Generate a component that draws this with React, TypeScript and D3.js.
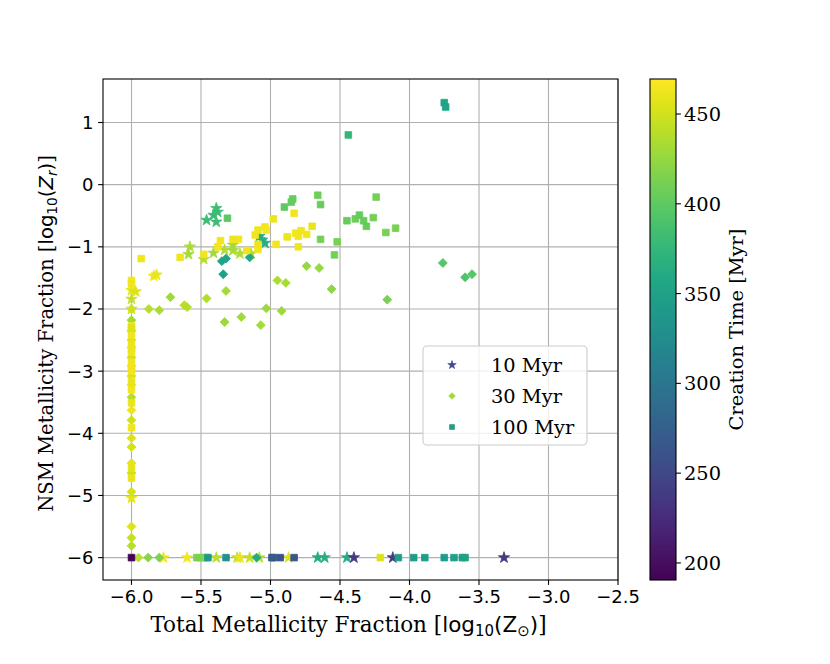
import * as d3 from 'd3';

// Stars: 10 Myr
const starX = [-5.46, -5.39, -5.41, -5.39, -5.38, -5.08, -5.06, -5.04, -5.58, -5.59, -5.48, -5.41, -5.33, -5.27, -5.27, -5.22, -5.14,
  -5.84, -5.82, -6.0, -5.97, -6.0, -6.0, -6.0,
  -5.77, -5.6, -5.39, -5.24, -5.22, -5.15, -5.08, -4.87, -4.66, -4.61, -4.45, -4.4, -4.12, -3.32];
const starY = [-0.57, -0.38, -0.49, -0.6, -0.44, -0.83, -0.89, -0.94, -1.0, -1.12, -1.2, -1.1, -1.05, -0.97, -1.06, -1.11, -1.11,
  -1.47, -1.45, -1.7, -1.72, -1.84, -2.0, -5.04,
  -6, -6, -6, -6, -6, -6, -6, -6, -6, -6, -6, -6, -6, -6];
const starT = [382, 385, 380, 383, 381, 365, 362, 366, 435, 432, 438, 430, 436, 434, 432, 437, 433,
  462, 460, 458, 455, 445, 450, 458,
  465, 465, 440, 445, 460, 445, 440, 455, 362, 365, 362, 238, 240, 238];

// Diamonds: 30 Myr
const diamondX = [-5.35, -5.32, -5.34, -5.15,
  -5.875, -5.8, -5.72, -5.62, -5.6, -5.46, -5.32, -5.33, -5.21, -5.07, -5.03, -4.92, -4.95, -4.89, -4.74, -4.65, -4.56, -4.16, -3.76, -3.6, -3.55,
  -6.0, -6.0, -6.0, -6.0, -6.0, -6.0, -6.0, -6.0, -6.0, -6.0, -6.0, -6.0, -6.0, -6.0, -6.0, -6.0, -6.0, -6.0, -6.0, -6.0,
  -5.95, -5.88, -5.8, -5.1];
const diamondY = [-1.23, -1.19, -1.44, -1.17,
  -2.0, -2.02, -1.81, -1.94, -1.97, -1.83, -1.71, -2.21, -2.13, -2.26, -1.99, -2.03, -1.54, -1.58, -1.31, -1.34, -1.68, -1.85, -1.26, -1.49, -1.44,
  -2.0, -2.18, -2.35, -2.5, -2.62, -2.78, -2.92, -3.08, -3.22, -3.42, -3.63, -3.79, -4.08, -4.22, -4.48, -4.64, -4.94, -5.5, -5.68, -5.81,
  -6, -6, -6, -6];
const diamondT = [352, 356, 350, 358,
  440, 435, 430, 440, 438, 436, 432, 428, 430, 432, 428, 428, 435, 432, 425, 425, 422, 412, 395, 392, 396,
  448, 430, 440, 455, 460, 445, 462, 450, 458, 440, 462, 448, 455, 450, 458, 448, 452, 455, 445, 440,
  440, 420, 415, 360];

// Squares: 100 Myr
const squareX = [-4.98, -4.83, -5.04, -5.03, -5.09, -5.11, -4.88, -4.82, -4.78, -4.74, -4.7, -4.8, -4.8, -4.96, -5.09, -5.09, -5.17, -5.23, -5.27, -5.36, -5.38, -5.48, -5.65, -5.93,
  -4.84, -4.85, -4.9, -4.66, -4.64, -4.64, -4.52, -4.54, -4.24, -4.45, -4.39, -4.36, -4.33, -4.31, -4.26, -4.17, -4.1, -5.31,
  -4.44, -3.75, -3.74,
  -6.0, -6.0, -6.0, -6.0, -6.0, -6.0, -6.0, -6.0, -6.0, -6.0, -6.0, -6.0, -6.0, -6.0, -6.0, -6.0, -6.0,
  -6.0, -5.53, -5.51, -5.48, -5.46, -5.45, -5.32, -4.99, -4.98, -4.93, -4.83, -4.21, -4.08, -3.97, -3.89, -3.75, -3.68, -3.62, -3.6];
const squareY = [-0.55, -0.46, -0.68, -0.73, -0.73, -0.81, -0.84, -0.78, -0.74, -0.8, -0.67, -0.83, -1.0, -0.96, -0.96, -1.04, -1.06, -0.88, -0.88, -0.9, -1.0, -1.12, -1.17, -1.19,
  -0.23, -0.28, -0.36, -0.17, -0.32, -0.88, -0.92, -1.13, -0.2, -0.58, -0.55, -0.49, -0.58, -0.67, -0.53, -0.77, -0.7, -0.54,
  0.8, 1.32, 1.25,
  -1.54, -1.6, -2.27, -2.42, -2.56, -2.7, -2.85, -3.0, -3.15, -3.3, -2.3, -2.65, -2.95, -3.51, -3.91, -4.56, -4.72,
  -6, -6, -6, -6, -6, -6, -6, -6, -6, -6, -6, -6, -6, -6, -6, -6, -6, -6, -6];
const squareT = [462, 464, 463, 466, 462, 464, 462, 465, 463, 464, 460, 463, 462, 465, 462, 464, 463, 465, 462, 464, 465, 463, 462, 464,
  405, 402, 400, 408, 405, 410, 412, 410, 410, 405, 408, 402, 405, 404, 410, 412, 412, 398,
  375, 355, 352,
  465, 462, 465, 463, 460, 464, 462, 465, 460, 463, 455, 462, 464, 460, 462, 458, 460,
  192, 415, 412, 415, 418, 340, 330, 265, 268, 262, 265, 455, 345, 342, 345, 342, 348, 345, 350];

const xTicks = [-6.0, -5.5, -5.0, -4.5, -4.0, -3.5, -3.0, -2.5];
const yTicks = [-6, -5, -4, -3, -2, -1, 0, 1];
const cbTicks = [200, 250, 300, 350, 400, 450];
const legendLabels = ['10 Myr', '30 Myr', '100 Myr'];

const W = 830;
const H = 664;
const plot = { left: 103, top: 79, right: 618, bottom: 580 };
const cb = { left: 650, right: 676 };
const SERIF = '"DejaVu Serif", serif';
const SANS = '"DejaVu Sans", sans-serif';

const minus = (s: string) => s.replace('-', '\u2212');

export default function App() {
  const x = d3.scaleLinear().domain([-6.205, -2.5]).range([plot.left, plot.right]);
  const y = d3.scaleLinear().domain([-6.36, 1.7]).range([plot.bottom, plot.top]);
  const cy = d3.scaleLinear().domain([190.5, 469.5]).range([plot.bottom, plot.top]);
  const color = d3.scaleSequential(d3.interpolateViridis).domain([190.5, 469.5]);

  const starPath = d3.symbol().type(d3.symbolStar).size(40)() as string;
  const squarePath = d3.symbol().type(d3.symbolSquare).size(44)() as string;
  const diamondPath = d3.symbol().type(d3.symbolSquare).size(40)() as string;

  const series = [
    { xs: starX, ys: starY, ts: starT, path: starPath, rot: 0 },
    { xs: diamondX, ys: diamondY, ts: diamondT, path: diamondPath, rot: 45 },
    { xs: squareX, ys: squareY, ts: squareT, path: squarePath, rot: 0 },
  ];
  const legendColors = ['#3f4889', '#a0da39', '#1f9e89'];

  const stops = d3.range(0, 1.0001, 0.05);

  return (
    <svg width={W} height={H} style={{ position: 'absolute', left: 0, top: 0, background: '#fff' }}>
      <defs>
        <linearGradient id="viridis" x1="0" y1="1" x2="0" y2="0">
          {stops.map((t) => (
            <stop key={t} offset={t} stopColor={d3.interpolateViridis(t)} />
          ))}
        </linearGradient>
        <clipPath id="plotclip">
          <rect x={plot.left} y={plot.top} width={plot.right - plot.left} height={plot.bottom - plot.top} />
        </clipPath>
      </defs>

      {/* grid */}
      {xTicks.map((t) => (
        <line key={'gx' + t} x1={x(t)} x2={x(t)} y1={plot.top} y2={plot.bottom} stroke="#b0b0b0" strokeWidth={1.1} />
      ))}
      {yTicks.map((t) => (
        <line key={'gy' + t} x1={plot.left} x2={plot.right} y1={y(t)} y2={y(t)} stroke="#b0b0b0" strokeWidth={1.1} />
      ))}

      {/* points */}
      <g clipPath="url(#plotclip)">
        {series.map((s, si) =>
          s.xs.map((v, i) => (
            <path
              key={si + '-' + i}
              d={s.path}
              transform={`translate(${x(v)},${y(s.ys[i])}) rotate(${s.rot})`}
              fill={color(s.ts[i])}
              stroke={color(s.ts[i])}
              strokeWidth={0.8}
            />
          ))
        )}
      </g>

      {/* frame */}
      <rect x={plot.left} y={plot.top} width={plot.right - plot.left} height={plot.bottom - plot.top} fill="none" stroke="#000" strokeWidth={1.1} />

      {/* x axis */}
      {xTicks.map((t) => (
        <g key={'xt' + t}>
          <line x1={x(t)} x2={x(t)} y1={plot.bottom} y2={plot.bottom + 4.9} stroke="#000" strokeWidth={1.1} />
          <text x={x(t)} y={plot.bottom + 23} textAnchor="middle" fontFamily={SANS} fontSize={18}>
            {minus(d3.format('.1f')(t))}
          </text>
        </g>
      ))}
      {/* y axis */}
      {yTicks.map((t) => (
        <g key={'yt' + t}>
          <line x1={plot.left - 4.9} x2={plot.left} y1={y(t)} y2={y(t)} stroke="#000" strokeWidth={1.1} />
          <text x={plot.left - 9.5} y={y(t) + 6.5} textAnchor="end" fontFamily={SANS} fontSize={18}>
            {minus(String(t))}
          </text>
        </g>
      ))}

      <text x={(plot.left + plot.right) / 2 - 12} y={632} textAnchor="middle" fontFamily={SERIF} fontSize={21.5}>
        Total Metallicity Fraction [
        <tspan fontFamily={SANS}>log</tspan>
        <tspan fontFamily={SANS} fontSize={15} dy={4}>10</tspan>
        <tspan fontFamily={SANS} dy={-4}>(</tspan>
        <tspan fontFamily={SANS}>Z</tspan>
        <tspan fontFamily={SANS} fontSize={15} dy={4}>⊙</tspan>
        <tspan fontFamily={SANS} dy={-4}>)</tspan>]
      </text>

      <text transform={`translate(53,${(plot.top + plot.bottom) / 2 + 4}) rotate(-90)`} textAnchor="middle" fontFamily={SERIF} fontSize={19.6}>
        NSM Metallicity Fraction [
        <tspan fontFamily={SANS}>log</tspan>
        <tspan fontFamily={SANS} fontSize={13.7} dy={4}>10</tspan>
        <tspan fontFamily={SANS} dy={-4}>(</tspan>
        <tspan fontFamily={SANS} fontStyle="italic">Z</tspan>
        <tspan fontFamily={SANS} fontStyle="italic" fontSize={13.7} dy={4}>r</tspan>
        <tspan fontFamily={SANS} dy={-4}>)</tspan>]
      </text>

      {/* legend */}
      <g>
        <rect x={423} y={346} width={164} height={99} rx={4} fill="#fff" fillOpacity={0.8} stroke="#cccccc" strokeWidth={1.1} />
        {legendLabels.map((lab, i) => {
          const ly = 365 + i * 31;
          const s = series[i];
          return (
            <g key={lab}>
              <path d={s.path} transform={`translate(452,${ly}) rotate(${s.rot}) scale(0.75)`} fill={legendColors[i]} stroke={legendColors[i]} strokeWidth={0.8} />
              <text x={491} y={ly + 7} fontFamily={SERIF} fontSize={19.4}>{lab}</text>
            </g>
          );
        })}
      </g>

      {/* colorbar */}
      <rect x={cb.left} y={plot.top} width={cb.right - cb.left} height={plot.bottom - plot.top} fill="url(#viridis)" stroke="#000" strokeWidth={1.1} />
      {cbTicks.map((t) => (
        <g key={'cb' + t}>
          <line x1={cb.right} x2={cb.right + 4.9} y1={cy(t)} y2={cy(t)} stroke="#000" strokeWidth={1.1} />
          <text x={cb.right + 8} y={cy(t) + 7} fontFamily={SERIF} fontSize={19.4}>{t}</text>
        </g>
      ))}
      <text transform={`translate(743,${(plot.top + plot.bottom) / 2}) rotate(-90)`} textAnchor="middle" fontFamily={SERIF} fontSize={19.4}>
        Creation Time [Myr]
      </text>
    </svg>
  );
}
